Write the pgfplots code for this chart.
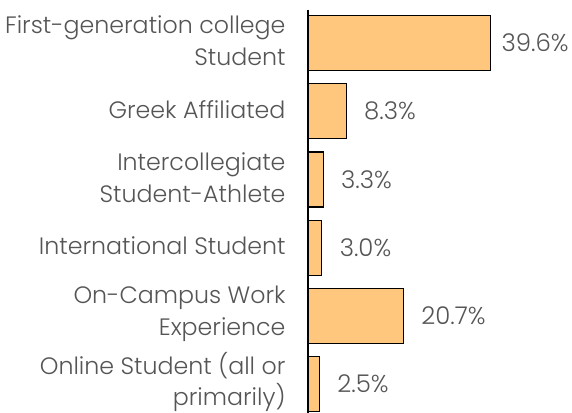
\documentclass[border=0pt]{standalone}
\usepackage{fontspec}
\setmainfont{Poppins}[UprightFont=* Light]
\usepackage{pgfplots}
\pgfplotsset{compat=1.18}
\definecolor{barfill}{HTML}{FFC77D}
\definecolor{txt}{HTML}{555555}
\begin{document}
\begin{tikzpicture}
\path[use as bounding box] (-308bp,0bp) rectangle (264bp,413bp);
\begin{axis}[
  at={(0bp,0bp)}, anchor=south west,
  scale only axis,
  width=263bp, height=403bp,
  xmin=0, xmax=57,
  ymin=-0.484, ymax=5.425,
  y dir=reverse,
  axis x line=none,
  axis y line*=left,
  y axis line style={line width=1.2pt, -},
  ytick={0,1,2,3,4,5},
  yticklabels={{First-generation college\hspace{-6bp}\\Student\hspace{4bp}},{Greek Affiliated},{Intercollegiate\\Student-Athlete},{International Student},{On-Campus Work\\Experience},{Online Student (all or\\primarily)}},
  yticklabel style={align=right, font=\fontsize{23.8}{32}\selectfont, text=txt, xshift=-19bp, yshift=2bp},
  major tick length=0pt,
  xbar, bar width=55bp, bar shift=0pt,
  /pgf/number format/assume math mode=true,
  nodes near coords={\pgfmathprintnumber[fixed,precision=1,fixed zerofill,assume math mode=true]{\pgfplotspointmeta}\%},
  nodes near coords style={font=\fontsize{24.5}{28}\selectfont, text=txt, anchor=west, xshift=14bp},
  point meta=explicit,
  clip=false,
]
\addplot[fill=barfill, draw=black, line width=1.2pt, nodes near coords style={xshift=-7bp}] table[meta=v] {
x y v
39.6 0 39.6
};
\addplot[fill=barfill, draw=black, line width=1.2pt] table[meta=v] {
x y v
8.3 1 8.3
3.3 2 3.3
3.0 3 3.0
20.7 4 20.7
2.5 5 2.5
};
\end{axis}
\end{tikzpicture}
\end{document}
